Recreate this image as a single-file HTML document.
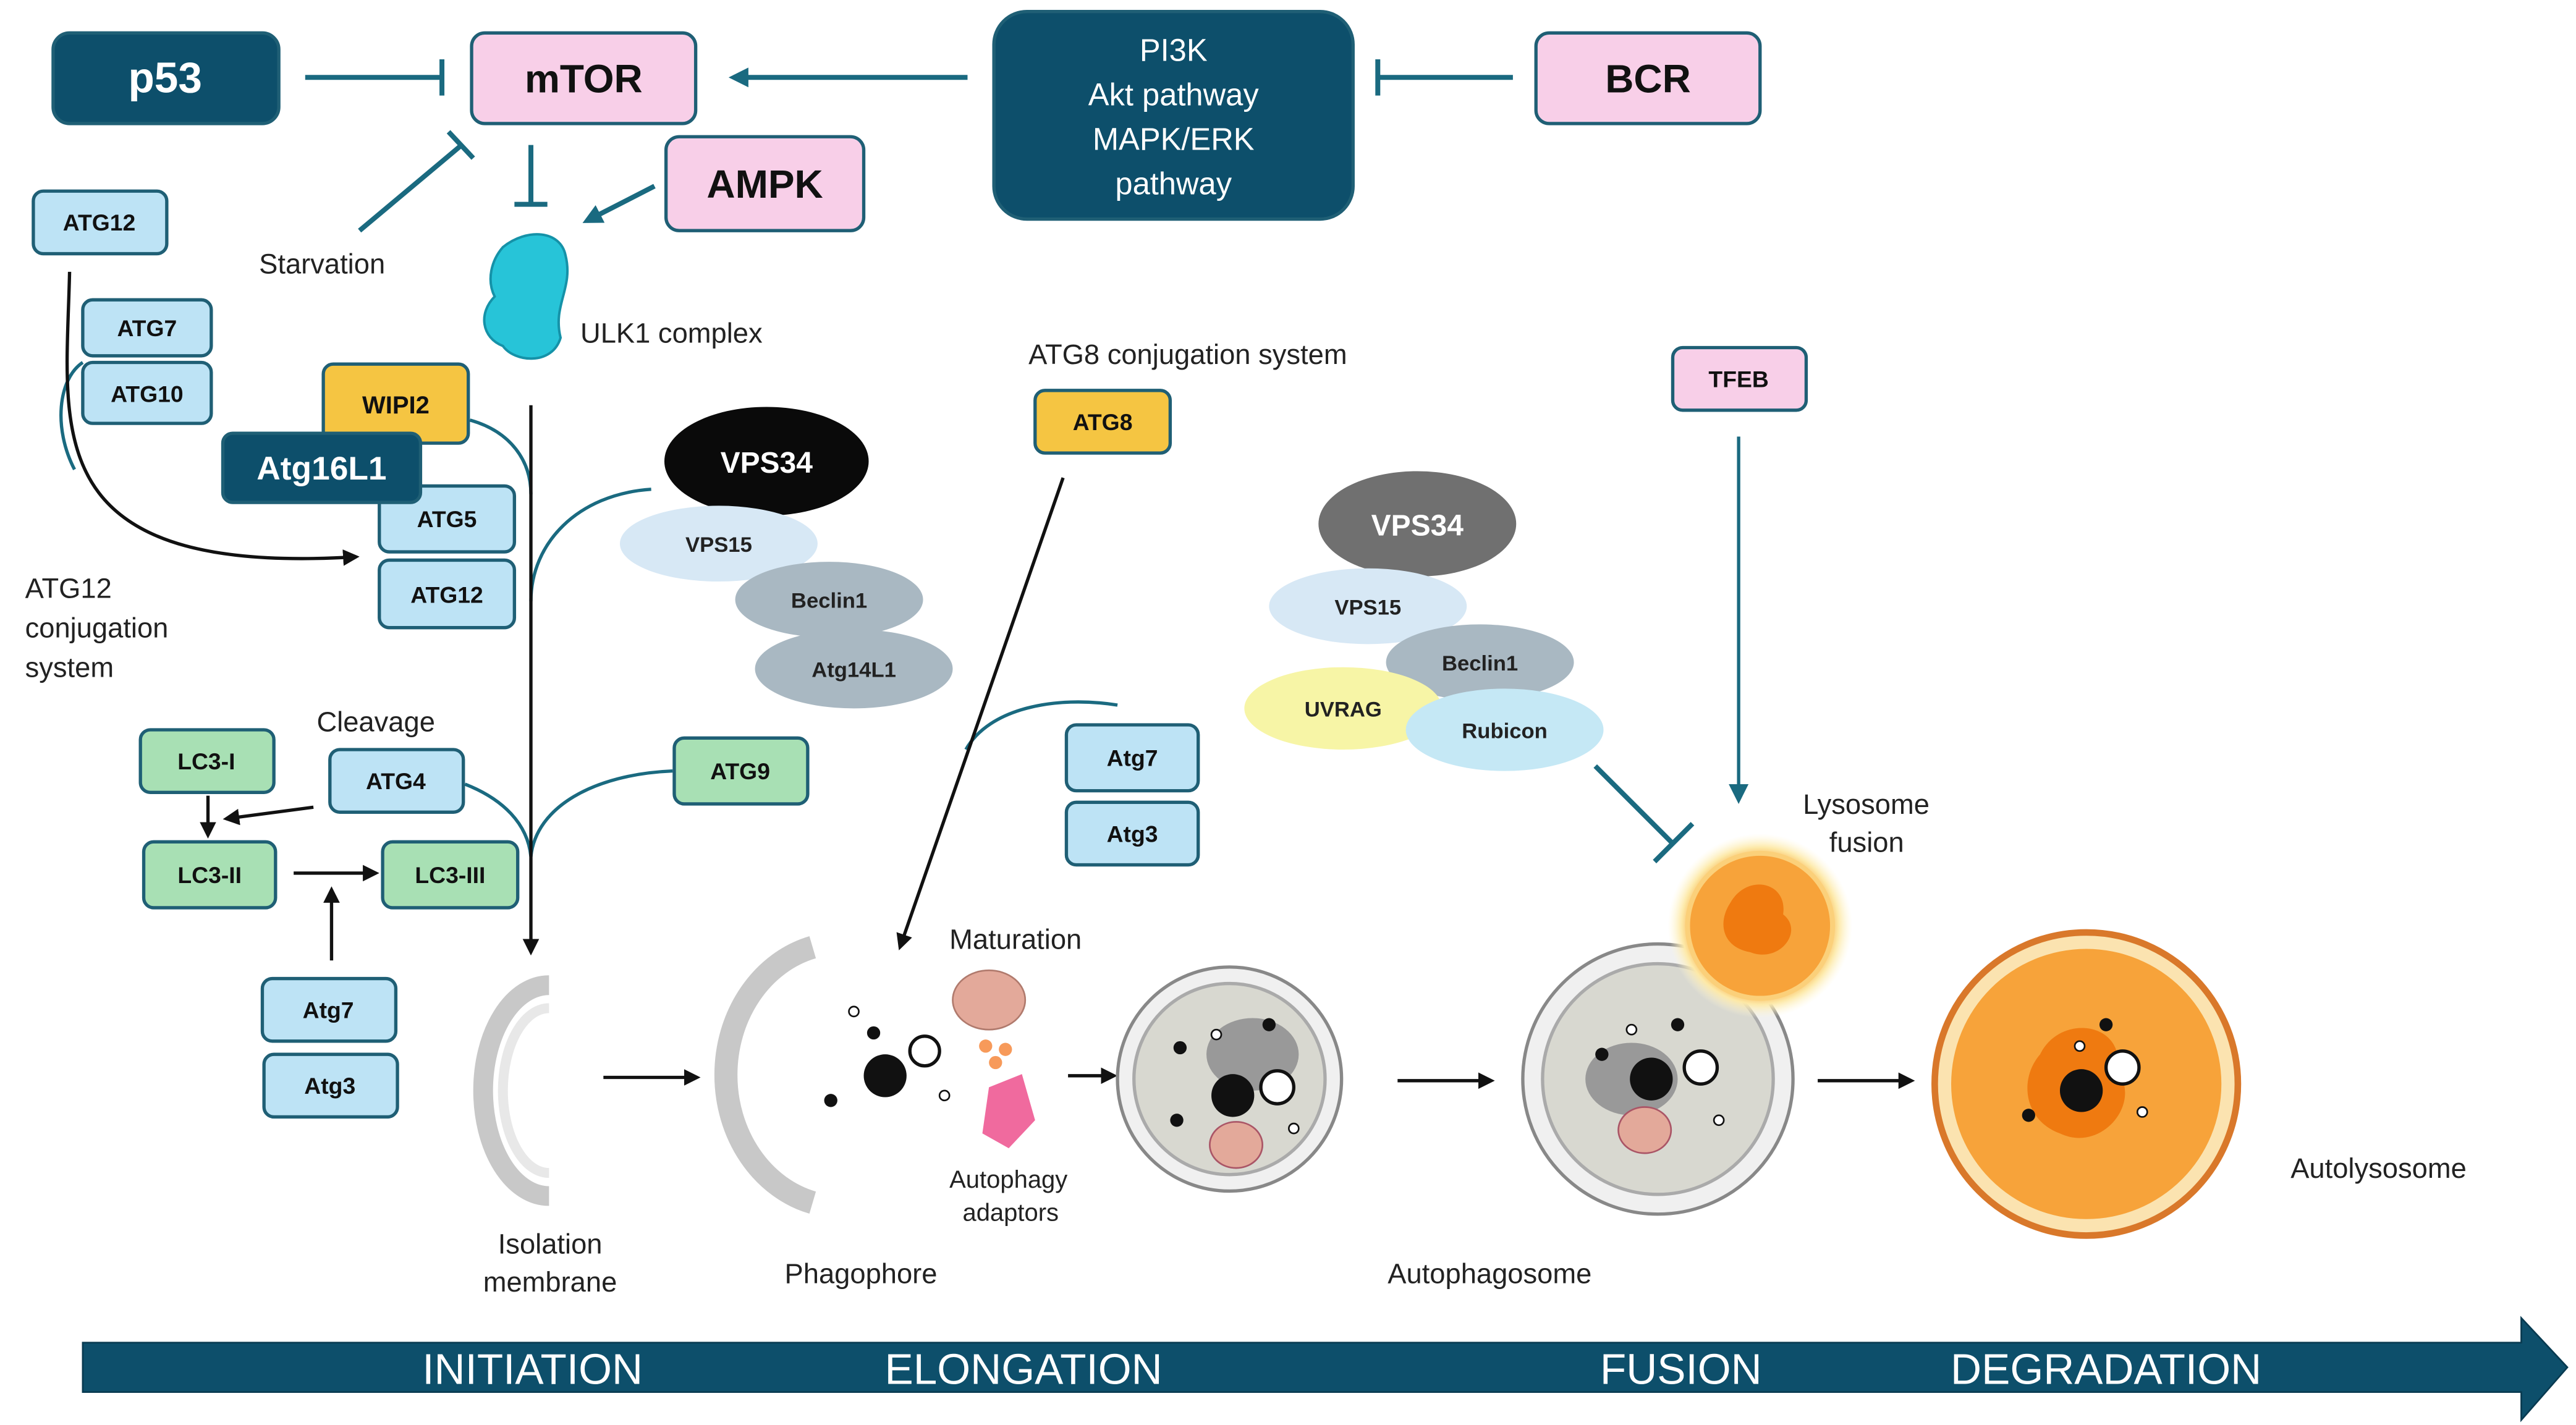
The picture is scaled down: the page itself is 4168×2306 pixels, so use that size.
<!DOCTYPE html>
<html><head><meta charset="utf-8"><style>
html,body{margin:0;padding:0;background:#fff;}
svg{display:block;}
text{font-family:"Liberation Sans",sans-serif;}
</style></head><body>
<svg width="4168" height="2306" viewBox="0 0 1563 865" xmlns="http://www.w3.org/2000/svg">
<defs>
<marker id="ab" markerWidth="10" markerHeight="10" refX="8" refY="5" orient="auto" markerUnits="userSpaceOnUse"><path d="M0,0 L10,5 L0,10 z" fill="#111"/></marker>
<marker id="at" markerWidth="12" markerHeight="12" refX="9" refY="6" orient="auto" markerUnits="userSpaceOnUse"><path d="M0,0 L12,6 L0,12 z" fill="#1a6a80"/></marker>
<radialGradient id="glow"><stop offset="70%" stop-color="#f7a33a"/><stop offset="85%" stop-color="#fde9a8"/><stop offset="100%" stop-color="#fff8d8" stop-opacity="0"/></radialGradient>
</defs>
<g fill="none" stroke="#1a6a80" stroke-width="3">
<line x1="185" y1="47" x2="268" y2="47"/><line x1="268" y1="36" x2="268" y2="58"/>
<line x1="587" y1="47" x2="445" y2="47" marker-end="url(#at)"/>
<line x1="918" y1="47" x2="836" y2="47"/><line x1="836" y1="36" x2="836" y2="58"/>
<line x1="397" y1="113" x2="356" y2="134" marker-end="url(#at)"/>
<line x1="322" y1="88" x2="322" y2="124"/><line x1="312" y1="124" x2="332" y2="124"/>
<line x1="218" y1="140" x2="280" y2="88"/><line x1="272" y1="80" x2="287" y2="96"/>
<line x1="968" y1="465" x2="1015" y2="512"/><line x1="1004" y1="523" x2="1027" y2="500"/>
<line x1="1055" y1="265" x2="1055" y2="485" stroke-width="2" marker-end="url(#at)"/>
</g>
<g fill="none" stroke="#1a6a80" stroke-width="2">
<path d="M285,255 C310,262 322,280 322,300"/>
<path d="M395,297 C350,300 322,330 322,365"/>
<path d="M282,476 C305,485 320,500 322,520"/>
<path d="M408,468 C360,470 325,490 322,520"/>
<path d="M586,455 C600,430 640,422 678,428"/>
<path d="M50,220 C35,230 32,260 45,285"/>
</g>
<g fill="none" stroke="#111" stroke-width="2">
<line x1="322" y1="246" x2="322" y2="578" marker-end="url(#ab)"/>
<path d="M42,165 C40,260 20,350 216,338" marker-end="url(#ab)"/>
<line x1="645" y1="290" x2="546" y2="575" marker-end="url(#ab)"/>
<line x1="126" y1="483" x2="126" y2="507" marker-end="url(#ab)"/>
<line x1="190" y1="490" x2="137" y2="497" marker-end="url(#ab)"/>
<line x1="178" y1="530" x2="228" y2="530" marker-end="url(#ab)"/>
<line x1="201" y1="583" x2="201" y2="540" marker-end="url(#ab)"/>
<line x1="366" y1="654" x2="423" y2="654" marker-end="url(#ab)"/>
<line x1="648" y1="653" x2="676" y2="653" marker-end="url(#ab)"/>
<line x1="848" y1="656" x2="905" y2="656" marker-end="url(#ab)"/>
<line x1="1103" y1="656" x2="1160" y2="656" marker-end="url(#ab)"/>
</g>
<g stroke="#1f5f75" stroke-width="2">
<rect x="32" y="20" width="137" height="55" rx="10" fill="#0d4f6b"/>
<rect x="286" y="20" width="136" height="55" rx="8" fill="#f8cfe8"/>
<rect x="603" y="7" width="218" height="126" rx="20" fill="#0d4f6b"/>
<rect x="932" y="20" width="136" height="55" rx="8" fill="#f8cfe8"/>
<rect x="404" y="83" width="120" height="57" rx="8" fill="#f8cfe8"/>
<rect x="20" y="116" width="81" height="38" rx="6" fill="#bde3f5"/>
<rect x="50" y="182" width="78" height="34" rx="6" fill="#bde3f5"/>
<rect x="50" y="220" width="78" height="37" rx="6" fill="#bde3f5"/>
<rect x="196" y="221" width="88" height="48" rx="6" fill="#f5c542"/>
<rect x="230" y="295" width="82" height="40" rx="6" fill="#bde3f5"/>
<rect x="230" y="340" width="82" height="41" rx="6" fill="#bde3f5"/>
<rect x="135" y="263" width="120" height="42" rx="6" fill="#0d4f6b"/>
<rect x="85" y="443" width="81" height="38" rx="6" fill="#a8e0b4"/>
<rect x="200" y="455" width="81" height="38" rx="6" fill="#bde3f5"/>
<rect x="87" y="511" width="80" height="40" rx="6" fill="#a8e0b4"/>
<rect x="232" y="511" width="82" height="40" rx="6" fill="#a8e0b4"/>
<rect x="409" y="448" width="81" height="40" rx="6" fill="#a8e0b4"/>
<rect x="159" y="594" width="81" height="38" rx="6" fill="#bde3f5"/>
<rect x="160" y="640" width="81" height="38" rx="6" fill="#bde3f5"/>
<rect x="628" y="237" width="82" height="38" rx="6" fill="#f5c542"/>
<rect x="647" y="440" width="80" height="40" rx="6" fill="#bde3f5"/>
<rect x="647" y="487" width="80" height="38" rx="6" fill="#bde3f5"/>
<rect x="1015" y="211" width="81" height="38" rx="6" fill="#f8cfe8"/>
</g>
<g font-weight="bold" text-anchor="middle" fill="#111">
<text x="100" y="56" font-size="26" fill="#fff">p53</text>
<text x="354" y="56" font-size="24">mTOR</text>
<text x="1000" y="56" font-size="24">BCR</text>
<text x="464" y="120" font-size="24">AMPK</text>
<text x="60" y="140" font-size="14">ATG12</text>
<text x="89" y="204" font-size="14">ATG7</text>
<text x="89" y="244" font-size="14">ATG10</text>
<text x="240" y="251" font-size="15">WIPI2</text>
<text x="195" y="291" font-size="20" fill="#fff">Atg16L1</text>
<text x="271" y="320" font-size="14">ATG5</text>
<text x="271" y="366" font-size="14">ATG12</text>
<text x="125" y="467" font-size="14">LC3-I</text>
<text x="240" y="479" font-size="14">ATG4</text>
<text x="127" y="536" font-size="14">LC3-II</text>
<text x="273" y="536" font-size="14">LC3-III</text>
<text x="449" y="473" font-size="14">ATG9</text>
<text x="199" y="618" font-size="14">Atg7</text>
<text x="200" y="664" font-size="14">Atg3</text>
<text x="669" y="261" font-size="14">ATG8</text>
<text x="687" y="465" font-size="14">Atg7</text>
<text x="687" y="511" font-size="14">Atg3</text>
<text x="1055" y="235" font-size="14">TFEB</text>
</g>
<g text-anchor="middle" fill="#fff" font-size="19">
<text x="712" y="37">PI3K</text><text x="712" y="64">Akt pathway</text>
<text x="712" y="91">MAPK/ERK</text><text x="712" y="118">pathway</text>
</g>
<path d="M305,150 C320,138 340,140 343,155 C348,175 335,185 340,205 C335,222 312,220 305,210 C292,205 290,190 300,180 C295,170 298,158 305,150z" fill="#27c4d8" stroke="#1592a8" stroke-width="1.5"/>
<ellipse cx="465" cy="280" rx="62" ry="33" fill="#0a0a0a"/>
<ellipse cx="436" cy="330" rx="60" ry="23" fill="#d7e8f5"/>
<ellipse cx="503" cy="364" rx="57" ry="23" fill="#a9b8c2"/>
<ellipse cx="518" cy="406" rx="60" ry="24" fill="#a9b8c2"/>
<ellipse cx="860" cy="318" rx="60" ry="32" fill="#707070"/>
<ellipse cx="830" cy="368" rx="60" ry="23" fill="#d7e8f5"/>
<ellipse cx="898" cy="402" rx="57" ry="23" fill="#a9b8c2"/>
<ellipse cx="815" cy="430" rx="60" ry="25" fill="#f7f5a6"/>
<ellipse cx="913" cy="443" rx="60" ry="25" fill="#c5e8f5"/>
<g font-weight="bold" text-anchor="middle" fill="#222" font-size="13">
<text x="465" y="287" font-size="18" fill="#fff">VPS34</text>
<text x="436" y="335">VPS15</text><text x="503" y="369">Beclin1</text><text x="518" y="411">Atg14L1</text>
<text x="860" y="325" font-size="18" fill="#fff">VPS34</text>
<text x="830" y="373">VPS15</text><text x="898" y="407">Beclin1</text><text x="815" y="435">UVRAG</text><text x="913" y="448">Rubicon</text>
</g>
<g fill="#222" font-size="17">
<text x="157" y="166">Starvation</text>
<text x="352" y="208">ULK1 complex</text>
<text x="15" y="363">ATG12</text><text x="15" y="387">conjugation</text><text x="15" y="411">system</text>
<text x="192" y="444">Cleavage</text>
<text x="624" y="221">ATG8 conjugation system</text>
<text x="576" y="576">Maturation</text>
<text x="1094" y="494">Lysosome</text><text x="1110" y="517">fusion</text>
<text x="1390" y="715">Autolysosome</text>
<text x="302" y="761">Isolation</text><text x="293" y="784">membrane</text>
<text x="476" y="779">Phagophore</text>
<text x="842" y="779">Autophagosome</text>
<text x="576" y="721" font-size="15">Autophagy</text><text x="584" y="741" font-size="15">adaptors</text>
</g>
<path d="M333,598 A40,64 0 0 0 333,726" fill="none" stroke="#c8c8c8" stroke-width="12"/>
<path d="M333,612 A28,50 0 0 0 333,712" fill="none" stroke="#e8e8e8" stroke-width="6"/>
<path d="M493,575 A70,80 0 0 0 493,730" fill="none" stroke="#c8c8c8" stroke-width="14"/>
<circle cx="537" cy="653" r="13" fill="#111"/><circle cx="561" cy="638" r="9" fill="#fff" stroke="#111" stroke-width="2"/>
<circle cx="530" cy="627" r="4" fill="#111"/><circle cx="504" cy="668" r="4" fill="#111"/><circle cx="573" cy="665" r="3" fill="#fff" stroke="#111"/><circle cx="518" cy="614" r="3" fill="#fff" stroke="#111"/>
<ellipse cx="600" cy="607" rx="22" ry="18" fill="#e3a99a" stroke="#b07a6d"/>
<circle cx="598" cy="635" r="4" fill="#f79a5a"/><circle cx="610" cy="637" r="4" fill="#f79a5a"/><circle cx="604" cy="645" r="4" fill="#f79a5a"/>
<path d="M600,660 L620,652 L628,680 L612,697 L596,688z" fill="#f06a9e"/>
<circle cx="746" cy="655" r="68" fill="#f0f0f0" stroke="#888" stroke-width="2"/>
<circle cx="746" cy="655" r="58" fill="#d8d8d0" stroke="#aaa" stroke-width="2"/>
<ellipse cx="760" cy="640" rx="28" ry="22" fill="#999"/>
<circle cx="748" cy="665" r="13" fill="#111"/><circle cx="775" cy="660" r="10" fill="#fff" stroke="#111" stroke-width="2"/>
<ellipse cx="750" cy="695" rx="16" ry="14" fill="#e3a99a" stroke="#a56"/>
<circle cx="716" cy="636" r="4" fill="#111"/><circle cx="714" cy="680" r="4" fill="#111"/><circle cx="785" cy="685" r="3" fill="#fff" stroke="#111"/><circle cx="738" cy="628" r="3" fill="#fff" stroke="#111"/><circle cx="770" cy="622" r="4" fill="#111"/>
<circle cx="1006" cy="655" r="82" fill="#f0f0f0" stroke="#888" stroke-width="2"/>
<circle cx="1006" cy="655" r="70" fill="#d8d8d0" stroke="#aaa" stroke-width="2"/>
<ellipse cx="990" cy="655" rx="28" ry="22" fill="#999"/>
<circle cx="1002" cy="655" r="13" fill="#111"/><circle cx="1032" cy="648" r="10" fill="#fff" stroke="#111" stroke-width="2"/>
<ellipse cx="998" cy="686" rx="16" ry="14" fill="#e3a99a" stroke="#a56"/>
<circle cx="972" cy="640" r="4" fill="#111"/><circle cx="1018" cy="622" r="4" fill="#111"/><circle cx="1043" cy="680" r="3" fill="#fff" stroke="#111"/><circle cx="990" cy="625" r="3" fill="#fff" stroke="#111"/>
<circle cx="1068" cy="562" r="56" fill="url(#glow)"/>
<circle cx="1068" cy="562" r="44" fill="#f7a33a" stroke="#fbd07a" stroke-width="3"/>
<path d="M1050,548 C1060,530 1085,535 1082,555 C1095,565 1080,585 1062,578 C1045,575 1042,560 1050,548z" fill="#ef7a10"/>
<circle cx="1266" cy="658" r="92" fill="#fbe3b0" stroke="#d9782a" stroke-width="4"/>
<circle cx="1266" cy="658" r="82" fill="#f7a33a"/>
<path d="M1238,640 C1250,615 1290,620 1285,650 C1300,670 1275,700 1250,688 C1228,680 1225,655 1238,640z" fill="#ef7a10"/>
<circle cx="1263" cy="662" r="13" fill="#111"/><circle cx="1288" cy="648" r="10" fill="#fff" stroke="#111" stroke-width="2"/>
<circle cx="1231" cy="677" r="4" fill="#111"/><circle cx="1278" cy="622" r="4" fill="#111"/><circle cx="1300" cy="675" r="3" fill="#fff" stroke="#111"/><circle cx="1262" cy="635" r="3" fill="#fff" stroke="#111"/>
<path d="M50,815 L1530,815 L1530,800 L1558,830 L1530,862 L1530,845 L50,845z" fill="#0d4f6b" stroke="#083a50"/>
<g fill="#fff" font-size="26" text-anchor="middle">
<text x="323" y="840">INITIATION</text><text x="621" y="840">ELONGATION</text>
<text x="1020" y="840">FUSION</text><text x="1278" y="840">DEGRADATION</text>
</g>
</svg>
</body></html>
